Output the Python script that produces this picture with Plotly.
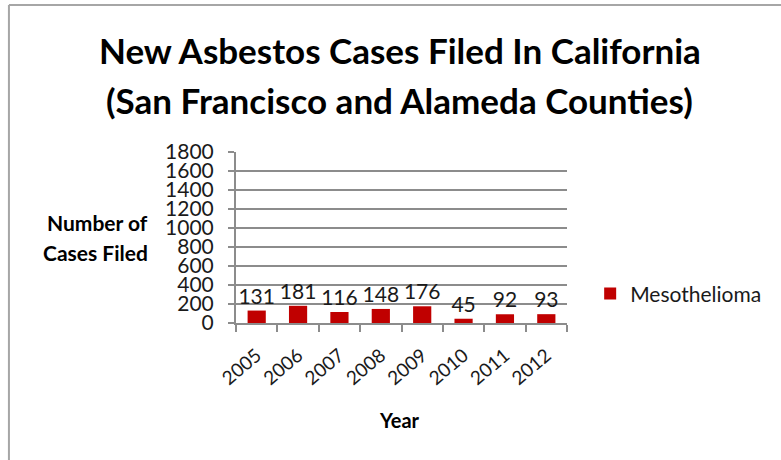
import plotly.graph_objects as go

years = ["2005", "2006", "2007", "2008", "2009", "2010", "2011", "2012"]
mesothelioma = [131, 181, 116, 148, 176, 45, 92, 93]
y_ticks = [0, 200, 400, 600, 800, 1000, 1200, 1400, 1600, 1800]

FONT = "Lato"
GRID = "#8c8c8c"

fig = go.Figure()
fig.add_trace(go.Bar(
    x=years, y=mesothelioma, name="Mesothelioma",
    marker=dict(color="#c00000", line=dict(width=0)),
    text=[str(v) for v in mesothelioma], textposition="outside",
    constraintext="none",
    textfont=dict(family=FONT, size=21, color="#1a1a1a"),
    cliponaxis=False,
))

fig.update_layout(
    width=781, height=460,
    margin=dict(l=236, r=214, t=152, b=137, autoexpand=False),
    paper_bgcolor="white", plot_bgcolor="white",
    bargap=0.56,
    showlegend=True,
    legend=dict(x=1.07, y=0.17, xanchor="left", yanchor="middle",
                font=dict(family=FONT, size=21, color="#1a1a1a"),
                itemwidth=30, bgcolor="rgba(0,0,0,0)"),
    font=dict(family=FONT),
)
fig.update_yaxes(
    range=[0, 1800], tickvals=y_ticks, ticktext=[str(t) for t in y_ticks],
    showgrid=True, gridcolor=GRID, gridwidth=2,
    showline=True, linecolor=GRID, linewidth=2,
    ticks="outside", ticklen=6, tickcolor=GRID, tickwidth=2,
    ticklabelstandoff=10,
    tickfont=dict(family=FONT, size=21, color="#1a1a1a"),
    zeroline=False,
)
fig.update_xaxes(
    type="category", tickson="boundaries",
    showline=True, linecolor=GRID, linewidth=2,
    ticks="outside", ticklen=7, tickcolor=GRID, tickwidth=2,
    tickangle=-40, ticklabelstandoff=12,
    tickfont=dict(family=FONT, size=19, color="#1a1a1a"),
    showgrid=False,
)

fig.add_annotation(text="<b>New Asbestos Cases Filed In California</b>",
                   xref="paper", yref="paper", x=0.495, y=1.596,
                   xanchor="center", yanchor="middle", showarrow=False,
                   font=dict(family=FONT, size=35, color="black"))
fig.add_annotation(text="<b>(San Francisco and Alameda Counties)</b>",
                   xref="paper", yref="paper", x=0.495, y=1.304,
                   xanchor="center", yanchor="middle", showarrow=False,
                   font=dict(family=FONT, size=35, color="black"))
fig.add_annotation(text="<b>Number of</b>", xref="paper", yref="paper",
                   x=-0.26, y=0.59, xanchor="right", yanchor="middle",
                   showarrow=False, font=dict(family=FONT, size=21, color="black"))
fig.add_annotation(text="<b>Cases Filed</b>", xref="paper", yref="paper",
                   x=-0.26, y=0.41, xanchor="right", yanchor="middle",
                   showarrow=False, font=dict(family=FONT, size=21, color="black"))
fig.add_annotation(text="<b>Year</b>", xref="paper", yref="paper",
                   x=0.495, y=-0.567, xanchor="center", yanchor="middle",
                   showarrow=False, font=dict(family=FONT, size=20, color="black"))

# outer frame (top and left edges visible)
fig.add_shape(type="line", xref="paper", yref="paper",
              x0=-0.686, x1=1.7, y0=1.86, y1=1.86, line=dict(color="#a6a6a6", width=2))
fig.add_shape(type="line", xref="paper", yref="paper",
              x0=-0.686, x1=-0.686, y0=1.86, y1=-0.9, line=dict(color="#a6a6a6", width=2))

fig.write_html("out.html", config={"displayModeBar": False},
               post_script="document.body.style.margin='0';")
